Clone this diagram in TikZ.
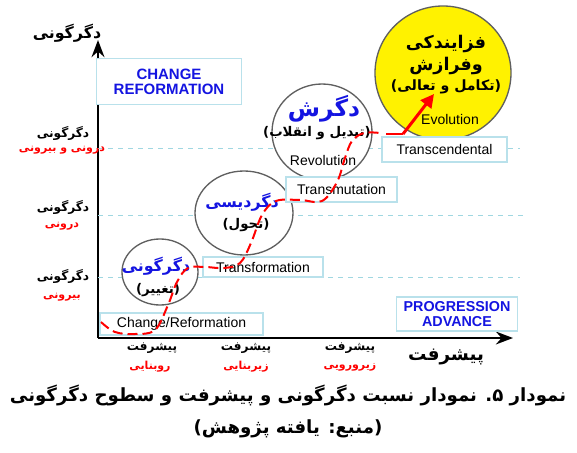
\documentclass[tikz,border=0pt]{standalone}
\usepackage{fontspec}
\setmainfont{Liberation Sans}
\newfontfamily\fa[Script=Arabic]{DejaVu Sans}
\TeXXeTstate=1
\usetikzlibrary{arrows.meta}
\usetikzlibrary{shapes.geometric}
\usetikzlibrary{positioning}
\definecolor{boxline}{RGB}{185,225,235}
\definecolor{gridline}{RGB}{160,215,225}
\definecolor{ringline}{RGB}{95,95,95}
\definecolor{labelblue}{RGB}{20,20,225}
\newcommand{\fatext}[1]{{\fa\bfseries\beginR #1\endR}}
\newcommand{\fsz}[1]{\fontsize{#1}{#1}\selectfont}

\begin{document}
\begin{tikzpicture}[x=0.6pt, y=-0.6pt, >=Stealth,
    ring/.style={ellipse, draw=ringline, line width=0.8pt, fill=white, inner sep=0pt},
    termbox/.style={draw=boxline, line width=0.7pt, fill=white, inner sep=0pt, font=\fsz{8.4}},
    headbox/.style={termbox, align=center, text=labelblue, font=\fsz{9}\bfseries},
    level/.style={gridline, dashed, line width=0.6pt},
    redpath/.style={red, line width=1.2pt, dash pattern=on 6pt off 3pt},
    falabel/.style={inner sep=0pt, font=\fsz{7.3}},
    redlabel/.style={falabel, text=red, font=\fsz{6.6}}]
    \useasboundingbox (0,0) rectangle (577,452);

    % Axes
    \coordinate (origin) at (98,338);
    \coordinate (ytip) at (98,40);
    \coordinate (xtip) at (513,338);
    \draw[line width=1.6pt, ->] (origin) -- (ytip);
    \draw[line width=1.6pt, ->] (origin) -- (xtip);
    \node[inner sep=0pt, font=\fsz{9.5}] (ylabel) at (67,33) {\fatext{دگرگونی}};
    \node[inner sep=0pt, font=\fsz{11}] (xlabel) at (446,357) {\fatext{پیشرفت}};

    % Levels of change
    \coordinate (lvA) at (98,148);
    \coordinate (lvB) at (98,215);
    \coordinate (lvC) at (98,277);
    \draw[level] (lvA) -- +(422,0);
    \draw[level] (lvB) -- +(425,0);
    \draw[level] (lvC) -- +(422,0);
    \node[falabel] (lvAtop) at (63,133) {\fatext{دگرگونی}};
    \node[redlabel] (lvAbot) at (62,150) {\fatext{درونی و بیرونی}};
    \node[falabel] (lvBtop) at (63,207) {\fatext{دگرگونی}};
    \node[redlabel] (lvBbot) at (62,226) {\fatext{درونی}};
    \node[falabel] (lvCtop) at (63,276) {\fatext{دگرگونی}};
    \node[redlabel] (lvCbot) at (62,297) {\fatext{بیرونی}};

    % Levels of progress
    \node[falabel] (prAtop) at (152,348) {\fatext{پیشرفت}};
    \node[redlabel] (prAbot) at (150,367) {\fatext{روبنایی}};
    \node[falabel] (prBtop) at (246,348) {\fatext{پیشرفت}};
    \node[redlabel] (prBbot) at (246,367) {\fatext{زیربنایی}};
    \node[falabel] (prCtop) at (350,348) {\fatext{پیشرفت}};
    \node[redlabel] (prCbot) at (350,367) {\fatext{زیرورویی}};

    % Headings
    \node[headbox, minimum width=87pt, minimum height=28pt] (change) at (169,81.5) {CHANGE\\REFORMATION};
    \node[headbox, minimum width=73pt, minimum height=20.4pt, font=\fsz{8.6}\bfseries] (progress) at (457,314) {PROGRESSION\\ADVANCE};

    % Stages
    \node[ring, minimum width=45.6pt, minimum height=39.6pt] (stageA) at (160,272) {};
    \node[ring, minimum width=58.8pt, minimum height=50.4pt] (stageB) at (244,213) {};
    \node[ring, minimum width=60pt, minimum height=57.6pt] (stageC) at (322,132) {};
    \node[ring, fill=yellow, minimum width=81.6pt, minimum height=80.4pt] (stageD) at (443,73) {};

    \node[inner sep=0pt, text=labelblue, font=\fsz{9.5}] (stageAname) at (156,266) {\fatext{دگرگونی}};
    \node[inner sep=0pt, font=\fsz{8}] (stageAsub) at (158,290) {\fatext{(تغییر)}};
    \node[inner sep=0pt, text=labelblue, font=\fsz{9.5}] (stageBname) at (242,202) {\fatext{دگردیسی}};
    \node[inner sep=0pt, font=\fsz{8}] (stageBsub) at (246,225) {\fatext{(تحول)}};
    \node[inner sep=0pt, text=labelblue, font=\fsz{14}] (stageCname) at (324,109) {\fatext{دگرش}};
    \node[inner sep=0pt, font=\fsz{8}] (stageCsub) at (317,133) {\fatext{(تبدیل و انقلاب)}};
    \node[inner sep=0pt, font=\fsz{8.4}] (stageCen) at (323,160) {Revolution};
    \node[inner sep=0pt, font=\fsz{10.5}] (stageDname) at (446,44) {\fatext{فزایندکی}};
    \node[inner sep=0pt, font=\fsz{10.5}] (stageDname2) at (446,66) {\fatext{وفرازش}};
    \node[inner sep=0pt, font=\fsz{8.5}] (stageDsub) at (446,87) {\fatext{(تکامل و تعالی)}};
    \node[inner sep=0pt, font=\fsz{8.4}] (stageDen) at (450,119) {Evolution};

    % Terms
    \node[termbox, minimum width=97.8pt, minimum height=13.2pt] (termA) at (181.5,324) {Change/Reformation};
    \node[termbox, minimum width=72pt, minimum height=12pt] (termB) at (263,267) {Transformation};
    \node[termbox, minimum width=66.6pt, minimum height=15pt] (termC) at (341.5,189.5) {Transmutation};
    \node[termbox, minimum width=75pt, minimum height=15pt] (termD) at (444.5,149.5) {Transcendental};

    % Path of change
    \draw[redpath] plot[smooth, tension=.6] coordinates {(101,322) (115,332) (135,334) (155,330) (168,305) (177,282) (188,268) (205,267) (224,268) (240,263) (251,243) (262,215) (276,201) (300,200) (322,201) (337,182) (345,158) (352,141) (364,133) (380,133)};
    \coordinate (evoStart) at (403,134);
    \coordinate (evoEnd) at (434,94);
    \draw[red, line width=1.2pt] (386,134) -- (evoStart);
    \draw[red, line width=1.8pt, -{Triangle[length=8pt, width=8pt]}] (evoStart) -- (evoEnd);

    % Caption
    \node[inner sep=0pt, font=\fsz{10.9}] (caption) at (288,395) {\fatext{نمودار ۵. نمودار نسبت دگرگونی و پیشرفت و سطوح دگرگونی}};
    \node[inner sep=0pt, font=\fsz{10.9}] (source) at (288,429) {\fatext{(منبع: یافته پژوهش)}};
\end{tikzpicture}
\end{document}
